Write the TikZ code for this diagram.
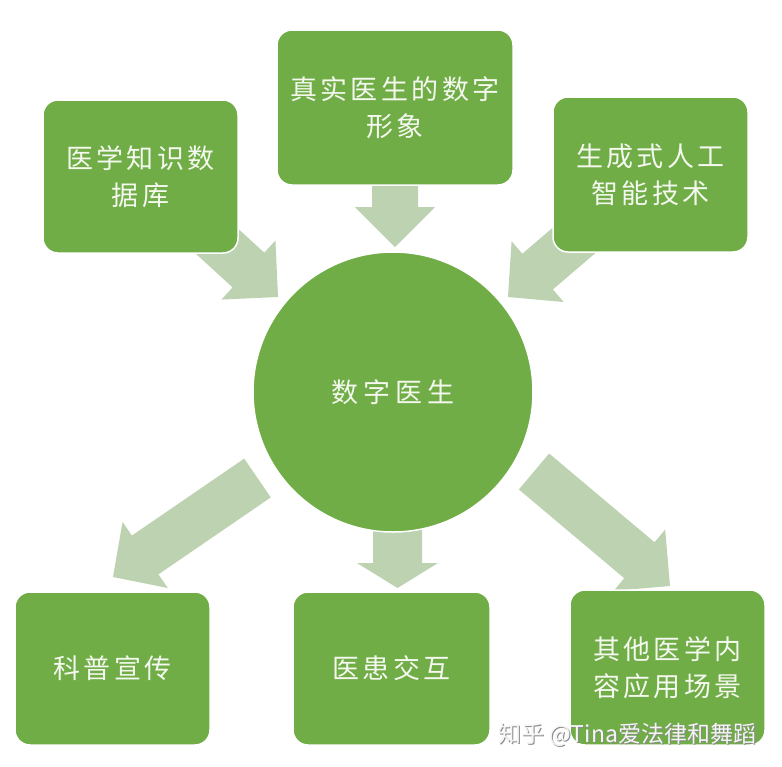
\documentclass[tikz,border=0pt]{standalone}
\usepackage{fontspec}
\newfontfamily\cjk{Noto Sans CJK SC}
\usetikzlibrary{calc}
\definecolor{boxgreen}{HTML}{70AD47}
\definecolor{arrowgreen}{HTML}{BCD2B1}
\definecolor{txtcol}{HTML}{F4F8EE}
\definecolor{wmshadow}{HTML}{8A8A8A}
\newdimen\spcw \spcw=30.5pt
\makeatletter
\def\spc#1{\spc@a#1\relax}
\def\spc@a#1{\ifx#1\relax\else\makebox[\spcw]{#1}\expandafter\spc@a\fi}
\makeatother
% block arrow: start, tip, shaft half width, head half width, head length
\newcommand\blockarrow[5]{%
  \coordinate (ah) at ($(#2)!#5!(#1)$);
  \fill[arrowgreen] ($(#1)!#3!90:(#2)$) -- ($(ah)!#3!90:(#2)$) -- ($(ah)!#4!90:(#2)$)
    -- (#2) -- ($(ah)!#4!-90:(#2)$) -- ($(ah)!#3!-90:(#2)$) -- ($(#1)!#3!-90:(#2)$) -- cycle;}
\tikzset{
  box/.style={fill=boxgreen, draw=white, line width=1.5pt, rounded corners=15pt,
    text=txtcol, align=center, inner sep=0pt,
    font=\cjk\fontsize{27}{37.5}\selectfont},
}
\begin{document}
\begin{tikzpicture}[x=1pt,y=-1pt]
\useasboundingbox[fill=white] (0,0) rectangle (782,766);
% arrow anchor coordinates
\coordinate (s1) at (197,223);   \coordinate (t1) at (278,297);
\coordinate (s2) at (395,170);   \coordinate (t2) at (395,247);
\coordinate (s3) at (599,219);   \coordinate (t3) at (508,297);
\coordinate (s4) at (257.5,478); \coordinate (t4) at (113,577);
\coordinate (s5) at (397.5,500); \coordinate (t5) at (397.5,588);
\coordinate (s6) at (534,471.5); \coordinate (t6) at (670,586);
\blockarrow{s1}{t1}{23.5pt}{40pt}{40pt}
\blockarrow{s2}{t2}{23pt}{40pt}{40pt}
\blockarrow{s3}{t3}{23.5pt}{40pt}{39pt}
\blockarrow{s4}{t4}{23.5pt}{40pt}{39pt}
\blockarrow{s5}{t5}{24.5pt}{40.5pt}{25pt}
\blockarrow{s6}{t6}{23.5pt}{40pt}{40pt}
% boxes
\node[box, minimum width=195pt, minimum height=153pt] (b1) at (140.5,176.5) {\spc{医学知识数}\\\spc{据库}};
\node[box, minimum width=236pt, minimum height=155pt] (b2) at (395,107.5) {\spc{真实医生的数字}\\\spc{形象}};
\node[box, minimum width=195pt, minimum height=155pt] (b3) at (650.5,174.5) {\spc{生成式人工}\\\spc{智能技术}};
\node[box, minimum width=195pt, minimum height=153pt] (b4) at (112.5,668.5) {\spc{科普宣传}};
\node[box, minimum width=197pt, minimum height=153pt] (b5) at (391.5,668.5) {\spc{医患交互}};
\node[box, minimum width=195pt, minimum height=155pt] (b6) at (667.5,667.5) {\spc{其他医学内}\\\spc{容应用场景}};
% circle
\node[box, circle, minimum size=280pt] (c) at (393,392) {\spcw=32pt\spc{数字医生}};
% watermark
\node[text=wmshadow, font=\cjk\fontsize{23}{23}\selectfont, inner sep=0pt] (wms) at (628,736) {知乎 @Tina爱法律和舞蹈};
\node[text=white!92!gray, font=\cjk\fontsize{23}{23}\selectfont, inner sep=0pt] (wm) at (627,735) {知乎 @Tina爱法律和舞蹈};
\end{tikzpicture}
\end{document}
